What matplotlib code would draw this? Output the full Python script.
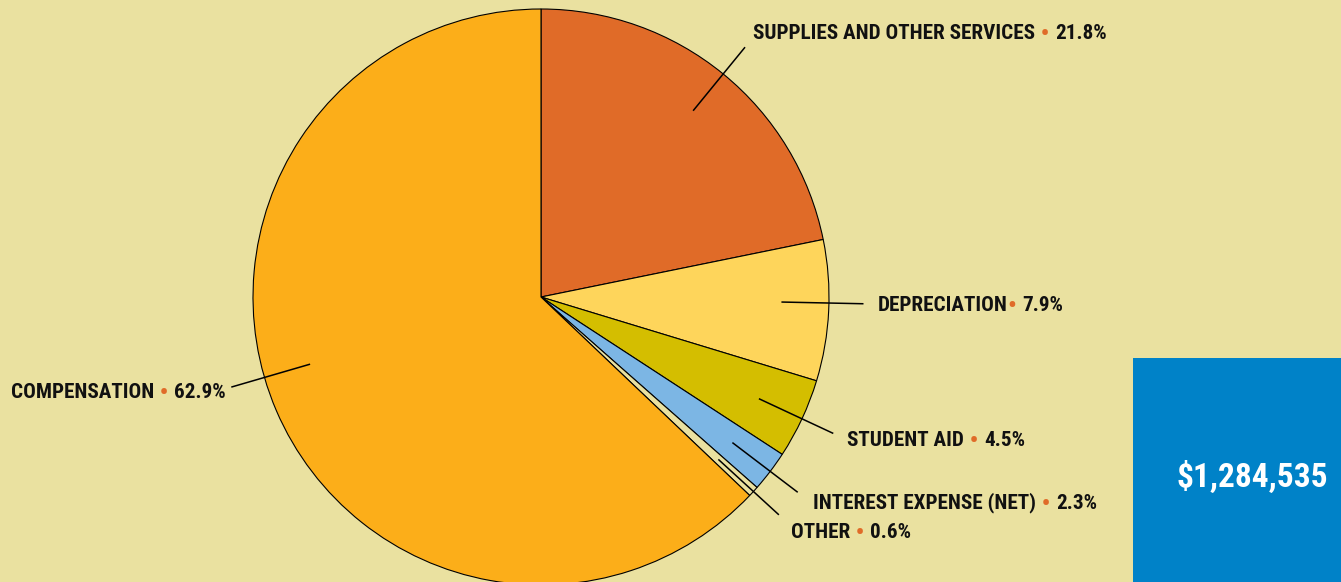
import numpy as np
import matplotlib
matplotlib.use("Agg")
import matplotlib.pyplot as plt
from matplotlib import font_manager as fm
from matplotlib.patches import Rectangle

# data
categories = ["SUPPLIES AND OTHER SERVICES", "DEPRECIATION", "STUDENT AID",
              "INTEREST EXPENSE (NET)", "OTHER", "COMPENSATION"]
shares = [21.8, 7.9, 4.5, 2.3, 0.6, 62.9]
pct_labels = ["21.8%", "7.9%", "4.5%", "2.3%", "0.6%", "62.9%"]
total_label = "$1,284,535"

BG = "#EAE1A0"
colors = ["#E06B28", "#FED55B", "#D4BE00", "#7CB6E4", BG, "#FCAE19"]
DOT = "#E06B28"
BLUE = "#0082C8"

W, H = 1341, 582

names = {f.name for f in fm.fontManager.ttflist}
FONT = "DejaVu Sans"
for cand in ["Roboto Condensed", "Liberation Sans Narrow", "DejaVu Sans Condensed"]:
    if cand in names:
        FONT = cand
        break

fig = plt.figure(figsize=(W / 100, H / 100), dpi=100, facecolor=BG)
ax = fig.add_axes([0, 0, 1, 1])
ax.set_facecolor(BG)

cx, cy, R = 541, H - 297, 288
wedges, _ = ax.pie(shares, colors=colors, startangle=90, counterclock=False,
                   center=(cx, cy), radius=R, frame=True,
                   wedgeprops=dict(edgecolor="black", linewidth=0.8))
ax.set_xlim(0, W)
ax.set_ylim(0, H)
ax.set_aspect("auto")
ax.axis("off")

# label layout: (left x, baseline y in image px), separator, leader angle tweak
label_pos = [(753, 39), (878, 311), (847, 446), (813, 508), (791, 538), (11, 398)]
seps = [" \u2022 ", "\u2022 ", " \u2022 ", " \u2022 ", " \u2022 ", " \u2022 "]
angle_tweak = [0, 1.5, 0, 0, 0, -7]

fs = 15.2
for i, w in enumerate(wedges):
    ang = np.deg2rad((w.theta1 + w.theta2) / 2 + angle_tweak[i])
    r0, r1 = 0.835 * R, 1.12 * R
    ax.plot([cx + r0 * np.cos(ang), cx + r1 * np.cos(ang)],
            [cy + r0 * np.sin(ang), cy + r1 * np.sin(ang)],
            color="black", lw=1.1, solid_capstyle="butt")

    x, yb = label_pos[i]
    t = ax.text(x, H - yb, categories[i], ha="left", va="baseline",
                fontfamily=FONT, fontweight="bold", fontsize=fs, color="#111111")
    # bigger bullet, nudged down so it sits at mid cap height
    d = ax.annotate(seps[i], xy=(1, 0), xycoords=t, xytext=(0, -2.2),
                    textcoords="offset points", ha="left", va="bottom",
                    fontfamily=FONT, fontweight="bold", fontsize=17.5, color=DOT)
    ax.annotate(pct_labels[i], xy=(1, 0), xycoords=d, xytext=(0, 2.2),
                textcoords="offset points", ha="left", va="bottom",
                fontfamily=FONT, fontweight="bold", fontsize=fs, color="#111111")

ax.add_patch(Rectangle((1133, 0), W - 1133, H - 358, facecolor=BLUE,
                       edgecolor="none", zorder=0.5))
ax.text(1252, H - 487, total_label, ha="center", va="baseline", color="white",
        fontfamily=FONT, fontweight="bold", fontsize=24)

fig.savefig("out.png", dpi=100, facecolor=BG)
plt.close(fig)
